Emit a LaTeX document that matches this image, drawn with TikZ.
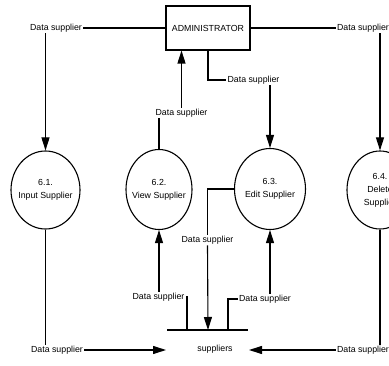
\documentclass[tikz,border=0pt]{standalone}
\usepackage{fontspec}
\setmainfont{Liberation Sans}
\usetikzlibrary{shapes.geometric,arrows.meta}
\begin{document}
\begin{tikzpicture}[x=1pt,y=-1pt,
  every node/.style={font=\fontsize{8.8}{13}\selectfont},
  conn/.style={line width=1.1pt},
  arr/.style={conn,-{Triangle[length=13pt,width=8pt]}},
  proc/.style={ellipse,draw,line width=1.1pt,inner sep=0pt},
  ptext/.style={align=center,inner sep=0pt},
  lbl/.style={inner sep=1pt},
  ent/.style={rectangle,draw,line width=1.1pt,minimum width=84pt,minimum height=44pt,inner sep=0pt}]
\useasboundingbox (0,0) rectangle (389,366);
\clip (0,0) rectangle (389,366);
% nodes
\node[ent] (admin) at (208,28) {ADMINISTRATOR};
\node[proc,minimum width=69pt,minimum height=78pt] (e61) at (45.5,190) {};
\node[ptext] (t61) at (e61) {6.1.\\Input Supplier};
\node[proc,minimum width=66pt,minimum height=80pt] (e62) at (159,189.5) {};
\node[ptext] (t62) at (e62) {6.2.\\View Supplier};
\node[proc,minimum width=71pt,minimum height=81pt] (e63) at (270,189) {};
\node[ptext] (t63) at (e63) {6.3.\\Edit Supplier};
\node[proc,minimum width=66pt,minimum height=78pt] (e64) at (380,190) {};
\node[ptext] (t64) at (e64) {6.4.\\Delete\\Supplier};
\node[lbl] (st) at (215,349) {suppliers};
\coordinate (sL) at (167,330);
\coordinate (sR) at (248,330);
\coordinate (s62) at (187,330);
\coordinate (s63) at (228,330);
\coordinate (sIn) at (208,330);
\coordinate (stL) at (166,350);
\coordinate (stR) at (249,350);
% labels
\node[lbl] (l1) at (56,28) {Data supplier};
\node[lbl] (l2) at (363,28) {Data supplier};
\node[lbl] (l3) at (181.5,113) {Data supplier};
\node[lbl] (l4) at (253.5,80) {Data supplier};
\node[lbl] (l5) at (207.5,240) {Data supplier};
\node[lbl] (l6) at (158.5,297) {Data supplier};
\node[lbl] (l7) at (265,299) {Data supplier};
\node[lbl] (l8) at (57,350) {Data supplier};
\node[lbl] (l9) at (363,350) {Data supplier};
% store line
\draw[conn] (sL) -- (sR);
% connectors
\draw[conn] (admin.west) -- (l1.east);
\draw[arr] (e61.north |- l1.south) -- (e61.north);
\draw[conn] (admin.east) -- (l2.west);
\draw[arr] (e64.north |- l2.south) -- (e64.north);
\draw[conn] (e62.north) -- (e62.north |- l3.south);
\draw[arr] (l3.north) -- (l3.north |- admin.south);
\draw[conn] (admin.south) |- (l4.west);
\draw[arr] (l4.south -| e63.north) -- (e63.north);
\draw[conn] (e63.west) -| (l5.north);
\draw[arr] (l5.south) -- (sIn);
\draw[conn] (s62) |- (l6.east);
\draw[arr] (l6.north -| e62.south) -- (e62.south);
\draw[conn] (s63) |- (l7.west);
\draw[arr] (l7.north -| e63.south) -- (e63.south);
\draw[conn] (e61.south) -- (e61.south |- l8.north);
\draw[arr] (l8.east) -- (stL);
\draw[conn] (e64.south) -- (e64.south |- l9.north);
\draw[arr] (l9.west) -- (stR);
\end{tikzpicture}
\end{document}
